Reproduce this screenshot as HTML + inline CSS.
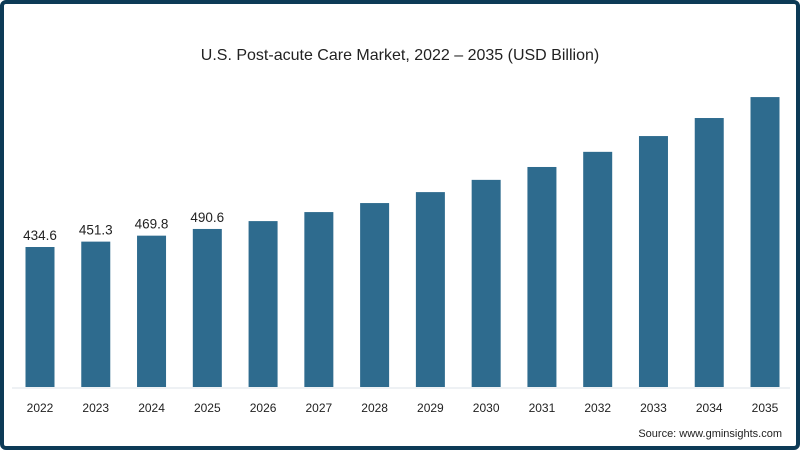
<!DOCTYPE html>
<html><head><meta charset="utf-8"><style>
body{margin:0;background:#fff}
#wrap{position:relative;width:800px;height:450px;box-sizing:border-box;border:4px solid #0d3a56;border-radius:6px;background:#fff;overflow:hidden;font-family:"Liberation Sans",sans-serif}
</style></head><body>
<div id="wrap">
<svg id="c" width="800" height="450" style="position:absolute;left:-4px;top:-4px"></svg>
</div>
<script>
const years=["2022","2023","2024","2025","2026","2027","2028","2029","2030","2031","2032","2033","2034","2035"];
const values=[434.6,451.3,469.8,490.6,515,543,571,605,643,683,730,779,835,900];
const labels=["434.6","451.3","469.8","490.6","","","","","","","","","",""];
const svg=document.getElementById('c');const NS='http://www.w3.org/2000/svg';
const base=387,k=140/434.6;
const x=i=>40+i*55.77;const y=v=>base-v*k;
function mk(t,a,txt){const e=document.createElementNS(NS,t);for(const p in a)e.setAttribute(p,a[p]);if(txt!=null)e.textContent=txt;svg.appendChild(e);return e;}
let t=mk('text',{x:400,y:60,'text-anchor':'middle','font-size':16,fill:'#222'},'U.S. Post-acute Care Market, 2022 – 2035 (USD Billion)');


let ax=mk('line',{x1:12,x2:790,y1:388,y2:388,stroke:'#dde3e8','stroke-width':1});


years.forEach((yr,i)=>{
 const r=mk('rect',{x:x(i)-14.5,y:y(values[i]),width:29,height:base-y(values[i]),fill:'#2e6b8e'});
 
 
 const tl=mk('text',{x:x(i),y:412,'text-anchor':'middle','font-size':12,fill:'#222'},yr);
 
 
 if(labels[i]){const v=mk('text',{x:x(i),y:y(values[i])-7,'text-anchor':'middle','font-size':13.5,fill:'#222'},labels[i]);
 
 }
});
let s=mk('text',{x:782,y:437,'text-anchor':'end','font-size':11,fill:'#222'},'Source: www.gminsights.com');


</script>
</body></html>
